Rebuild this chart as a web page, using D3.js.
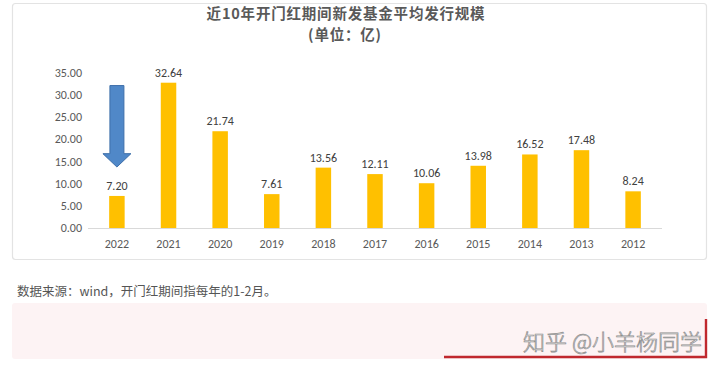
<!DOCTYPE html>
<html>
<head>
<meta charset="utf-8">
<script src="https://cdn.jsdelivr.net/npm/d3@7"></script>
<style>
  html, body { margin: 0; padding: 0; background: #ffffff; }
  svg { display: block; }
</style>
</head>
<body>
<svg id="chart" width="720" height="371"></svg>
<script>
const years = ["2022","2021","2020","2019","2018","2017","2016","2015","2014","2013","2012"];
const values = [7.20, 32.64, 21.74, 7.61, 13.56, 12.11, 10.06, 13.98, 16.52, 17.48, 8.24];
const yTicks = [0, 5, 10, 15, 20, 25, 30, 35];
const titleLines = ["近10年开门红期间新发基金平均发行规模", "(单位：亿)"];
const sourceNote = "数据来源：wind，开门红期间指每年的1-2月。";
const watermark = "知乎 @小羊杨同学";
const highlightYear = "2022";

const svg = d3.select("#chart");
const FONT = "'Noto Sans CJK SC', 'Noto Sans', sans-serif";
const NUMFONT = "Calibri, 'Liberation Sans', 'DejaVu Sans', sans-serif";

// panel
svg.append("rect")
  .attr("x", 12.5).attr("y", 3.5).attr("width", 694).attr("height", 256)
  .attr("rx", 3)
  .attr("fill", "#ffffff").attr("stroke", "#e3e3e3").attr("stroke-width", 1.2);

// title
svg.append("text")
  .attr("x", 346).attr("y", 19)
  .attr("text-anchor", "middle")
  .attr("font-family", FONT).attr("font-weight", "bold")
  .attr("font-size", 14.5).attr("letter-spacing", 0.8).attr("fill", "#595959")
  .text(titleLines[0]);
svg.append("text")
  .attr("x", 345).attr("y", 40)
  .attr("text-anchor", "middle")
  .attr("font-family", FONT).attr("font-weight", "bold")
  .attr("font-size", 14.5).attr("letter-spacing", 0.8).attr("fill", "#595959")
  .text(titleLines[1]);

// scales
const x = d3.scaleBand().domain(years).range([88, 662]).paddingInner(0.7).paddingOuter(0.41);
const y = d3.scaleLinear().domain([0, 35]).range([228, 72.2]);

// y axis (no line)
const yAxis = svg.append("g")
  .attr("transform", "translate(84,0)")
  .call(d3.axisLeft(y).tickValues(yTicks).tickFormat(d3.format(".2f")).tickSize(0).tickPadding(2));
yAxis.select(".domain").remove();
yAxis.selectAll("text")
  .attr("font-family", NUMFONT).attr("font-size", 12).attr("fill", "#595959");

// baseline
svg.append("line")
  .attr("x1", x.range()[0]).attr("x2", x.range()[1])
  .attr("y1", y(0) + 0.5).attr("y2", y(0) + 0.5)
  .attr("stroke", "#d9d9d9").attr("stroke-width", 1);

// x axis
const xAxis = svg.append("g")
  .attr("transform", `translate(0,${y(0)})`)
  .call(d3.axisBottom(x).tickSize(0).tickPadding(11));
xAxis.select(".domain").remove();
xAxis.selectAll("text")
  .attr("font-family", NUMFONT).attr("font-size", 12).attr("fill", "#595959");

// bars
svg.append("g").selectAll("rect")
  .data(values)
  .join("rect")
  .attr("x", (d, i) => x(years[i]))
  .attr("width", x.bandwidth())
  .attr("y", d => y(d))
  .attr("height", d => y(0) - y(d))
  .attr("fill", "#ffc000");

// value labels
svg.append("g").selectAll("text")
  .data(values)
  .join("text")
  .attr("x", (d, i) => x(years[i]) + x.bandwidth() / 2)
  .attr("y", d => y(d) - 6)
  .attr("text-anchor", "middle")
  .attr("font-family", NUMFONT).attr("font-size", 12).attr("fill", "#404040")
  .text(d => d3.format(".2f")(d));

// blue down arrow above highlighted bar
const cx = x(highlightYear) + x.bandwidth() / 2;
const yTop = y(32), yNeck = y(16.7), yTip = y(13.7);
const sw = 7, hw = 14;
svg.append("path")
  .attr("d", `M${cx - sw},${yTop} L${cx + sw},${yTop} L${cx + sw},${yNeck} L${cx + hw},${yNeck} L${cx},${yTip} L${cx - hw},${yNeck} L${cx - sw},${yNeck} Z`)
  .attr("fill", "#5088c8").attr("stroke", "#3f70aa").attr("stroke-width", 1);

// source note
svg.append("text")
  .attr("x", 17).attr("y", 296)
  .attr("font-family", FONT).attr("font-size", 12.5).attr("fill", "#555555")
  .text(sourceNote);

// pink band
svg.append("rect")
  .attr("x", 12).attr("y", 303).attr("width", 695).attr("height", 56)
  .attr("rx", 3)
  .attr("fill", "#fdf3f4");

// watermark
svg.append("text")
  .attr("x", 702).attr("y", 350)
  .attr("text-anchor", "end")
  .attr("font-family", FONT).attr("font-size", 22).attr("font-weight", 300)
  .attr("fill", "#f8f8f8").attr("stroke", "#8c8c8c").attr("stroke-width", 0.7)
  .text(watermark);

// red L line
svg.append("path")
  .attr("d", "M444,357 L706,357 L706,319")
  .attr("fill", "none").attr("stroke", "#c0282e").attr("stroke-width", 2.4);
</script>
</body>
</html>
